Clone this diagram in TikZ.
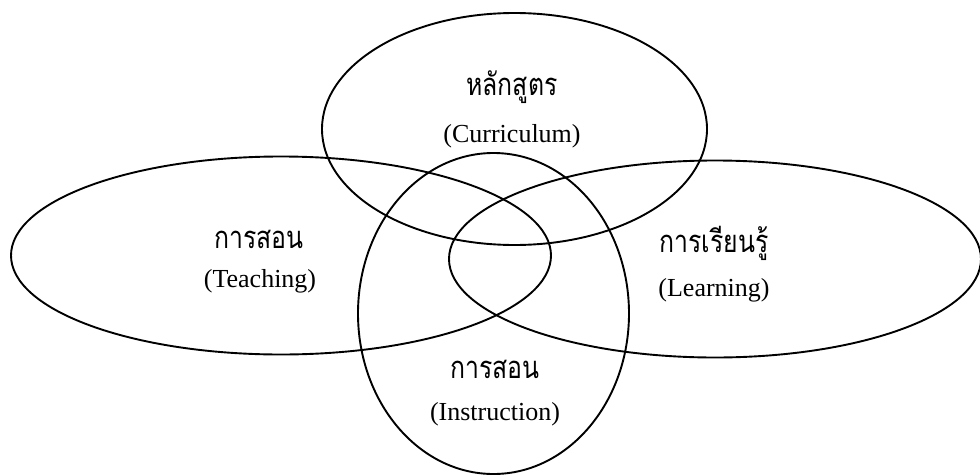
\documentclass[tikz,border=0pt]{standalone}
\usepackage{fontspec}
\setmainfont{Liberation Serif}
\newfontfamily\thaifont[Script=Thai, FakeStretch=0.8]{Loma}
\usetikzlibrary{shapes.geometric}
\tikzset{
  ring/.style={draw=black, line width=1.9pt, ellipse, inner sep=0pt},
  thlabel/.style={font=\thaifont\fontsize{31}{36}\selectfont, inner sep=0pt},
  enlabel/.style={font=\fontsize{26}{31}\selectfont, inner sep=0pt}
}
\begin{document}
\begin{tikzpicture}[x=1pt,y=-1pt]
\useasboundingbox (0,0) rectangle (980,474);
\node[ring, minimum width=385pt, minimum height=232pt] (cur) at (514.5,129) {};
\node[ring, minimum width=540pt, minimum height=198pt] (tea) at (281,255.5) {};
\node[ring, minimum width=532pt, minimum height=197pt] (lea) at (715,259) {};
\node[ring, minimum width=271pt, minimum height=321pt] (ins) at (493.5,313.5) {};
\node[thlabel] (curth) at (512,87) {หลักสูตร};
\node[enlabel] (curen) at (512,136) {(Curriculum)};
\node[thlabel] (teath) at (259,239) {การสอน};
\node[enlabel] (teaen) at (260,281) {(Teaching)};
\node[thlabel] (leath) at (714,243) {การเรียนรู้};
\node[enlabel] (leaen) at (714,290) {(Learning)};
\node[thlabel] (insth) at (495,369) {การสอน};
\node[enlabel] (insen) at (495,414) {(Instruction)};
\end{tikzpicture}
\end{document}
